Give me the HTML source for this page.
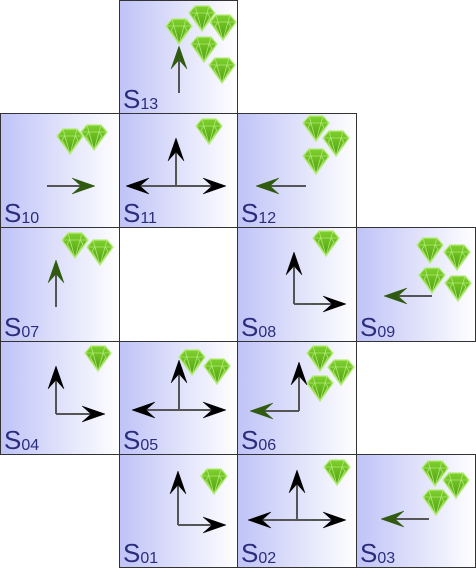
<!DOCTYPE html>
<html><head><meta charset="utf-8"><style>
html,body{margin:0;padding:0;background:#fff;width:476px;height:568px;overflow:hidden}
svg{display:block}
</style></head><body>
<svg id="s" width="476" height="568" xmlns="http://www.w3.org/2000/svg">
<defs>
<linearGradient id="bg" x1="0" x2="1" y1="0" y2="0"><stop offset="0" stop-color="#bfc3f7"/><stop offset="1" stop-color="#ffffff"/></linearGradient>
<linearGradient id="gm" x1="0" x2="0" y1="0" y2="1"><stop offset="0" stop-color="#7fd12e"/><stop offset="1" stop-color="#4fa010"/></linearGradient>
</defs>
</svg>
<script>
const NS='http://www.w3.org/2000/svg';
const cellIds=['13','10','11','12','07','08','09','04','05','06','01','02','03'];
const cellCols=[1,0,1,2,0,2,3,0,1,2,1,2,3];
const cellRows=[0,1,1,1,2,2,2,3,3,3,4,4,4];
const colX=[0,119,237,356,475];
const rowY=[0,113,227,341,454,567];
const gemX=[179,202,223,204,222, 70,94, 209, 316,336,316, 75,100, 326, 430,457,432,458, 98, 192,217, 320,341,320, 214, 337, 435,456,436];
const gemY=[31,18,27,49,70, 141,137, 131, 128,143,161, 245,252, 243, 250,257,280,288, 358, 362,371, 358,372,388, 481, 472, 473,485,502];
const arX1=[179,47,176,176,176,306,56,294,294,432,56,56,179,179,179,299,299,178,178,297,297,297,429];
const arY1=[93,186,186,186,186,186,307,304,304,296,414,414,410,410,410,411,411,525,525,520,520,520,519];
const arX2=[179,95,176,126,226,256,56,294,346,384,56,105,179,132,226,299,250,178,226,297,248,346,381];
const arY2=[46,186,138,186,186,186,260,252,304,296,366,414,360,410,410,362,411,471,525,470,520,520,519];
const arHead=['g','g','k','k','k','g','g','k','k','g','k','k','k','k','k','k','g','k','k','k','k','k','g'];
const svg=document.getElementById('s');
function mk(t,a){const e=document.createElementNS(NS,t);for(const k in a)e.setAttribute(k,a[k]);svg.appendChild(e);return e;}
cellIds.forEach((id,i)=>{
  const x=colX[cellCols[i]],y=rowY[cellRows[i]],w=colX[cellCols[i]+1]-x,h=rowY[cellRows[i]+1]-y;
  const r=mk('rect',{x:x+0.5,y:y+0.5,width:w,height:h,fill:'url(#bg)',stroke:'#333',"stroke-width":1});
  
  
  const t=mk('text',{x:x+4,y:y+h-5,"font-family":'Liberation Sans, sans-serif',"font-size":26,fill:'#2b2d7c'});
  
  
  t.innerHTML='S<tspan font-size="16" dy="1">'+id+'</tspan>';
});
gemX.forEach((cx,i)=>{
  const cy=gemY[i];
  const g=document.createElementNS(NS,'g');svg.appendChild(g);
  
  
  g.setAttribute('transform','translate('+cx+','+cy+')');
  g.innerHTML='<path d="M-7,-12 L7,-12 L13,-5 L0,13 L-13,-5 Z" fill="url(#gm)" stroke="#b6ec7a" stroke-width="1.3"/>'+
  '<path d="M-13,-5 L13,-5 M-7,-12 L-5,-5 L0,13 L5,-5 L7,-12 M-5,-5 L-8,-1 L0,13 L8,-1 L5,-5" fill="none" stroke="#b6ec7a" stroke-width="0.8" opacity="0.9"/>';
});
arX1.forEach((x1,i)=>{
  const y1=arY1[i],x2=arX2[i],y2=arY2[i];
  const dx=x2-x1,dy=y2-y1,L=Math.hypot(dx,dy),ux=dx/L,uy=dy/L,px=-uy,py=ux;
  const bx=x2-ux*22,by=y2-uy*22;
  const l=mk('line',{x1:x1,y1:y1,x2:bx+ux*8,y2:by+uy*8,stroke:'#555',"stroke-width":2});
  
  
  const c=arHead[i]==='g'?'#2f5a10':'#000';
  const pts=[[x2,y2],[bx+px*8-ux*1,by+py*8-uy*1],[bx+ux*8,by+uy*8],[bx-px*8-ux*1,by-py*8-uy*1]].map(p=>p.join(',')).join(' ');
  const h=mk('polygon',{points:pts,fill:c,stroke:c,"stroke-width":0.5});
  
  
});
</script>
</body></html>
